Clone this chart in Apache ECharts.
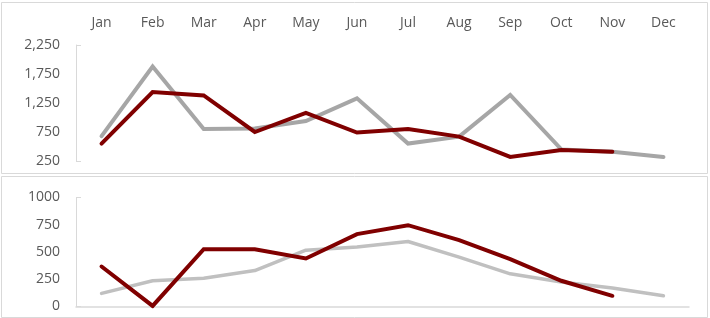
<!DOCTYPE html>
<html>
<head>
<meta charset="utf-8">
<script src="https://cdn.jsdelivr.net/npm/echarts@6/dist/echarts.min.js"></script>
<style>
  html, body { margin: 0; padding: 0; background: #fff; }
  #chart { width: 710px; height: 318px; }
</style>
</head>
<body>
<div id="chart"></div>
<script>
// data
var months = ['Jan', 'Feb', 'Mar', 'Apr', 'May', 'Jun', 'Jul', 'Aug', 'Sep', 'Oct', 'Nov', 'Dec'];

// top panel
var topGray = [680, 1880, 800, 810, 940, 1330, 550, 670, 1390, 450, 410, 320];
var topRed = [550, 1440, 1380, 750, 1080, 740, 800, 670, 320, 440, 410, null];

// bottom panel
var bottomGray = [120, 236, 260, 330, 517, 545, 596, 453, 300, 224, 169, 98];
var bottomRed = [367, 5, 526, 526, 440, 664, 746, 609, 435, 236, 98, null];

var textColor = '#595959';
var lineColor = '#D9D9D9';
var font = 'Open Sans';

var chart = echarts.init(document.getElementById('chart'));

function commas(v) {
	return String(v).replace(/\B(?=(\d{3})+(?!\d))/g, ',');
}

// only the axis line + inside ticks at the two ends
function tickAxis(grid, min, max) {
	return {
		type: 'value', gridIndex: grid, position: 'left',
		min: min, max: max, interval: max - min,
		axisLine: { show: true, lineStyle: { color: lineColor, width: 1 } },
		axisTick: { show: true, inside: true, length: 5, lineStyle: { color: lineColor } },
		axisLabel: { show: false },
		splitLine: { show: false }
	};
}

var option = {
	animation: false,
	backgroundColor: '#fff',
	graphic: [
		{ type: 'rect', shape: { x: 1.5, y: 2.5, width: 706, height: 171 },
			style: { fill: 'none', stroke: lineColor, lineWidth: 1 } },
		{ type: 'rect', shape: { x: 1.5, y: 176.5, width: 706, height: 141 },
			style: { fill: 'none', stroke: lineColor, lineWidth: 1 } }
	],
	grid: [
		{ left: 76, right: 21, top: 45, height: 116 },
		{ left: 76, right: 21, top: 197.5, height: 109 }
	],
	xAxis: [
		{
			type: 'category', gridIndex: 0, data: months, position: 'top',
			boundaryGap: true,
			axisLine: { show: false }, axisTick: { show: false },
			axisLabel: { color: textColor, fontFamily: font, fontSize: 14, margin: 15 }
		},
		{
			type: 'category', gridIndex: 1, data: months,
			boundaryGap: true,
			axisLine: { show: true, lineStyle: { color: lineColor, width: 1.5 } },
			axisTick: { show: false }, axisLabel: { show: false }
		}
	],
	yAxis: [
		{
			type: 'value', gridIndex: 0, min: 250, max: 2250, interval: 500,
			axisLine: { show: false }, axisTick: { show: false },
			splitLine: { show: false },
			axisLabel: { color: textColor, fontFamily: font, fontSize: 14, margin: 16, formatter: commas }
		},
		{
			type: 'value', gridIndex: 1, min: 0, max: 1000, interval: 250,
			axisLine: { show: false }, axisTick: { show: false },
			splitLine: { show: false },
			axisLabel: { color: textColor, fontFamily: font, fontSize: 14, margin: 16,
				formatter: function(v) { return String(v); } }
		},
		tickAxis(0, 250, 2250),
		tickAxis(1, 0, 1000)
	],
	series: [
		{ type: 'line', xAxisIndex: 0, yAxisIndex: 0, data: topGray, symbol: 'none',
			lineStyle: { color: '#A6A6A6', width: 4, cap: 'round', join: 'miter' } },
		{ type: 'line', xAxisIndex: 0, yAxisIndex: 0, data: topRed, symbol: 'none',
			lineStyle: { color: '#800000', width: 4, cap: 'round', join: 'miter' } },
		{ type: 'line', xAxisIndex: 1, yAxisIndex: 1, data: bottomGray, symbol: 'none',
			lineStyle: { color: '#C0C0C0', width: 3.5, cap: 'round' } },
		{ type: 'line', xAxisIndex: 1, yAxisIndex: 1, data: bottomRed, symbol: 'none',
			lineStyle: { color: '#800000', width: 4, cap: 'round', join: 'miter' } }
	]
};

chart.setOption(option);
</script>
</body>
</html>
